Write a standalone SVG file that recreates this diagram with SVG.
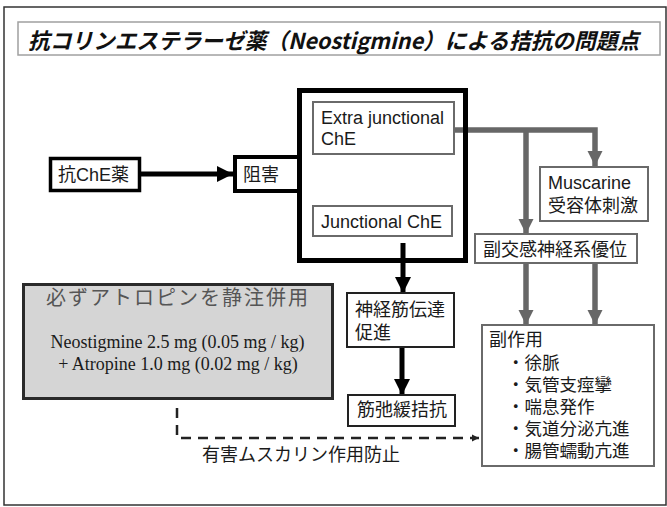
<svg xmlns="http://www.w3.org/2000/svg" width="667" height="507" viewBox="0 0 667 507">
<defs>
<style>
.jp{font-family:"Noto Sans CJK JP","Liberation Sans",sans-serif;font-size:18px;fill:#1a1a1a}
.li{font-family:"Noto Sans CJK JP","Liberation Sans",sans-serif;font-size:17.5px;fill:#1a1a1a}
.en{font-family:"Liberation Sans","Noto Sans CJK JP",sans-serif;font-size:18px;fill:#1a1a1a}
.se{font-family:"Liberation Serif","Noto Serif",serif;font-size:18px;fill:#1a1a1a}
.blk{stroke:#000;stroke-width:5;fill:none}
.gry{stroke:#676767;stroke-width:5.5;fill:none}
.box{fill:#fff;stroke:#222;stroke-width:2}
.gbox{fill:#fff;stroke:#6a6a6a;stroke-width:2}
</style>
<marker id="ab" viewBox="0 0 10 10" refX="10" refY="5" markerWidth="3.2" markerHeight="3.2" orient="auto" markerUnits="strokeWidth">
<path d="M0,0 L10,5 L0,10 Z" fill="#000"/>
</marker>
<marker id="ag" viewBox="0 0 10 10" refX="10" refY="5" markerWidth="2.8" markerHeight="2.8" orient="auto" markerUnits="strokeWidth">
<path d="M0,0 L10,5 L0,10 Z" fill="#676767"/>
</marker>
<marker id="ad" viewBox="0 0 10 10" refX="10" refY="5" markerWidth="3" markerHeight="3" orient="auto" markerUnits="strokeWidth">
<path d="M0,0 L10,5 L0,10 Z" fill="#222"/>
</marker>
</defs>
<rect x="0" y="0" width="667" height="507" fill="#fff"/>
<rect x="4" y="7" width="662" height="498" fill="none" stroke="#333" stroke-width="1.5"/>

<g id="title">
<rect x="18" y="22" width="642" height="33" fill="#fff" stroke="#a0a0a0" stroke-width="1.5"/>
<text x="28" y="49" font-family="'Noto Sans CJK JP',sans-serif" font-size="22" font-weight="bold" font-style="italic" fill="#111" textLength="611" lengthAdjust="spacingAndGlyphs">抗コリンエステラーゼ薬（Neostigmine）による拮抗の問題点</text>
</g>

<g id="connectors">
<line class="blk" x1="140" y1="174" x2="233" y2="174" marker-end="url(#ab)"/>
<line class="blk" x1="403" y1="243" x2="403" y2="293" marker-end="url(#ab)"/>
<line class="blk" x1="402" y1="347" x2="402" y2="395" marker-end="url(#ab)"/>
<polyline class="gry" points="454,130 595,130 595,166" marker-end="url(#ag)"/>
<line class="gry" x1="526" y1="130" x2="526" y2="234" marker-end="url(#ag)"/>
<line class="gry" x1="526" y1="263" x2="526" y2="325" marker-end="url(#ag)"/>
<line class="gry" x1="595" y1="263" x2="595" y2="325" marker-end="url(#ag)"/>
<polyline points="177,408 177,438 479,438" fill="none" stroke="#222" stroke-width="2.5" stroke-dasharray="10,7" marker-end="url(#ad)"/>
</g>

<g id="chE-inhibitor">
<rect x="50.5" y="158.5" width="89" height="32" fill="#fff" stroke="#000" stroke-width="3.5"/>
<text class="jp" x="58" y="181">抗<tspan class="en" font-family="Liberation Sans,sans-serif">ChE</tspan>薬</text>
</g>

<g id="big-box">
<rect x="299.5" y="90.5" width="166" height="170" fill="none" stroke="#000" stroke-width="5"/>
</g>

<g id="inhibition">
<rect x="235" y="157" width="64" height="34" fill="#fff" stroke="#000" stroke-width="4"/>
<text class="jp" x="243" y="181">阻害</text>
</g>

<g id="extra-junctional">
<rect x="313" y="102" width="141" height="52" class="gbox" stroke-width="1.5"/>
<text class="en" x="321" y="124">Extra junctional</text>
<text class="en" x="321" y="145">ChE</text>
</g>

<g id="junctional">
<rect x="313" y="206" width="139" height="30" class="gbox" stroke-width="1.5"/>
<text class="en" x="321" y="228">Junctional ChE</text>
</g>

<g id="muscarine">
<rect x="540" y="167" width="108" height="54" class="gbox" stroke-width="1.5"/>
<text class="en" x="548" y="189">Muscarine</text>
<text class="jp" x="548" y="212">受容体刺激</text>
</g>

<g id="parasympathetic">
<rect x="475" y="234" width="162" height="29" class="gbox"/>
<text class="jp" x="483" y="256">副交感神経系優位</text>
</g>

<g id="nm-transmission">
<rect x="347" y="293" width="107" height="54" class="box"/>
<text class="jp" x="355" y="316">神経筋伝達</text>
<text class="jp" x="355" y="339">促進</text>
</g>

<g id="reversal">
<rect x="348" y="395" width="107" height="31" class="box"/>
<text class="jp" x="357" y="416">筋弛緩拮抗</text>
</g>

<g id="side-effects">
<rect x="482" y="325" width="172" height="141" class="gbox"/>
<text class="jp" x="489" y="346">副作用</text>
<text class="li"><tspan x="507" y="369">・徐脈</tspan><tspan x="507" y="391">・気管支痙攣</tspan><tspan x="507" y="413">・喘息発作</tspan><tspan x="507" y="435">・気道分泌亢進</tspan><tspan x="507" y="457">・腸管蠕動亢進</tspan></text>
</g>

<g id="atropine">
<rect x="23.5" y="284.5" width="309" height="114" fill="#d5d5d5" stroke="#2a2a2a" stroke-width="3"/>
<text x="46" y="305" font-family="'Noto Sans CJK JP',sans-serif" font-size="20" letter-spacing="2" fill="#555">必ずアトロピンを静注併用</text>
<text class="se" x="177.5" y="348" text-anchor="middle">Neostigmine 2.5 mg (0.05 mg / kg)</text>
<text class="se" x="178" y="370" text-anchor="middle">+ Atropine 1.0 mg (0.02 mg / kg)</text>
</g>

<g id="prevent-label">
<text class="jp" x="202" y="461">有害ムスカリン作用防止</text>
</g>
</svg>
